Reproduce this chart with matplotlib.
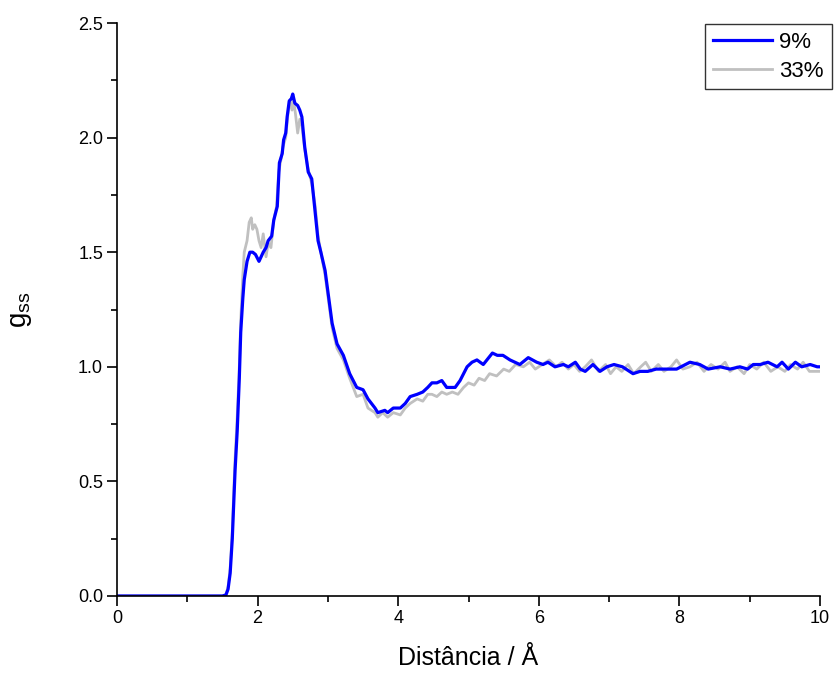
import matplotlib
matplotlib.use('Agg')
import matplotlib.pyplot as plt
from matplotlib.ticker import MultipleLocator

plt.rcParams['font.family'] = ['Liberation Sans', 'DejaVu Sans']
plt.rcParams['mathtext.fontset'] = 'custom'
plt.rcParams['mathtext.rm'] = 'Liberation Sans'

# 9% curve (blue)
x_9 = [0.0, 1.50, 1.55, 1.58, 1.61, 1.64, 1.66, 1.68, 1.71, 1.74, 1.76, 1.79,
       1.81, 1.85, 1.89, 1.93, 1.97, 2.02, 2.08, 2.12, 2.15, 2.20, 2.23, 2.28,
       2.31, 2.35, 2.37, 2.40, 2.42, 2.45, 2.48, 2.50, 2.53, 2.57, 2.60, 2.63,
       2.67, 2.72, 2.77, 2.82, 2.86, 2.90, 2.96, 3.06, 3.13, 3.22, 3.31, 3.41,
       3.50, 3.57, 3.67, 3.71, 3.81, 3.85, 3.93, 4.03, 4.10, 4.17, 4.27, 4.35,
       4.42, 4.48, 4.55, 4.62, 4.69, 4.77, 4.81, 4.88, 4.98, 5.05, 5.12, 5.21,
       5.34, 5.41, 5.49, 5.59, 5.73, 5.85, 5.97, 6.06, 6.13, 6.23, 6.35, 6.42,
       6.52, 6.59, 6.66, 6.77, 6.87, 6.97, 7.07, 7.19, 7.34, 7.44, 7.55, 7.67,
       7.82, 7.96, 8.15, 8.29, 8.41, 8.58, 8.72, 8.86, 8.97, 9.05, 9.15, 9.26,
       9.39, 9.46, 9.55, 9.65, 9.74, 9.86, 9.96, 10.0]
g_9 = [0.0, 0.0, 0.005, 0.03, 0.10, 0.25, 0.40, 0.55, 0.72, 0.95, 1.15, 1.30,
       1.38, 1.46, 1.50, 1.50, 1.49, 1.46, 1.50, 1.52, 1.55, 1.57, 1.64, 1.70,
       1.89, 1.93, 1.99, 2.02, 2.09, 2.16, 2.17, 2.19, 2.15, 2.14, 2.12, 2.09,
       1.96, 1.85, 1.82, 1.67, 1.55, 1.50, 1.42, 1.19, 1.10, 1.05, 0.97, 0.91,
       0.90, 0.86, 0.82, 0.80, 0.81, 0.80, 0.82, 0.82, 0.84, 0.87, 0.88, 0.89,
       0.91, 0.93, 0.93, 0.94, 0.91, 0.91, 0.91, 0.94, 1.00, 1.02, 1.03, 1.01,
       1.06, 1.05, 1.05, 1.03, 1.01, 1.04, 1.02, 1.01, 1.02, 1.00, 1.01, 1.00,
       1.02, 0.99, 0.98, 1.01, 0.98, 1.00, 1.01, 1.00, 0.97, 0.98, 0.98, 0.99,
       0.99, 0.99, 1.02, 1.01, 0.99, 1.00, 0.99, 1.00, 0.99, 1.01, 1.01, 1.02,
       1.00, 1.02, 0.99, 1.02, 1.00, 1.01, 1.00, 1.00]

# 33% curve (gray)
x_33 = [0.0, 1.50, 1.55, 1.58, 1.61, 1.64, 1.66, 1.68, 1.71, 1.74, 1.76, 1.79,
        1.81, 1.85, 1.88, 1.91, 1.93, 1.96, 1.99, 2.02, 2.05, 2.08, 2.12, 2.15,
        2.19, 2.23, 2.27, 2.30, 2.33, 2.36, 2.40, 2.43, 2.46, 2.49, 2.51, 2.54,
        2.57, 2.60, 2.63, 2.67, 2.72, 2.77, 2.82, 2.86, 2.90, 2.96, 3.06, 3.13,
        3.22, 3.31, 3.41, 3.50, 3.57, 3.67, 3.71, 3.78, 3.85, 3.93, 4.03, 4.10,
        4.17, 4.27, 4.35, 4.42, 4.48, 4.55, 4.62, 4.69, 4.77, 4.85, 4.93, 5.00,
        5.08, 5.15, 5.23, 5.30, 5.40, 5.50, 5.58, 5.67, 5.78, 5.87, 5.95, 6.05,
        6.15, 6.25, 6.33, 6.42, 6.50, 6.58, 6.66, 6.75, 6.85, 6.95, 7.02, 7.10,
        7.18, 7.27, 7.35, 7.45, 7.52, 7.60, 7.70, 7.78, 7.88, 7.96, 8.05, 8.15,
        8.25, 8.35, 8.45, 8.55, 8.65, 8.72, 8.82, 8.92, 9.00, 9.10, 9.20, 9.30,
        9.40, 9.50, 9.58, 9.68, 9.76, 9.85, 9.93, 10.0]
g_33 = [0.0, 0.0, 0.005, 0.04, 0.12, 0.28, 0.45, 0.60, 0.78, 1.00, 1.20, 1.40,
        1.50, 1.55, 1.63, 1.65, 1.60, 1.62, 1.60, 1.55, 1.52, 1.58, 1.48, 1.54,
        1.52, 1.64, 1.70, 1.85, 1.90, 1.96, 2.00, 2.10, 2.16, 2.12, 2.17, 2.10,
        2.02, 2.08, 2.05, 1.95, 1.86, 1.80, 1.70, 1.57, 1.50, 1.40, 1.17, 1.08,
        1.03, 0.95, 0.87, 0.88, 0.82, 0.80, 0.78, 0.80, 0.78, 0.80, 0.79, 0.82,
        0.84, 0.86, 0.85, 0.88, 0.88, 0.87, 0.89, 0.88, 0.89, 0.88, 0.91, 0.93,
        0.92, 0.95, 0.94, 0.97, 0.96, 0.99, 0.98, 1.01, 1.00, 1.02, 0.99, 1.01,
        1.03, 1.00, 1.02, 0.99, 1.01, 0.98, 1.00, 1.03, 0.98, 1.01, 0.97, 1.00,
        0.98, 1.01, 0.97, 1.00, 1.02, 0.98, 1.01, 0.98, 1.00, 1.03, 0.99, 1.00,
        1.02, 0.98, 1.01, 0.99, 1.02, 0.98, 1.00, 0.97, 1.01, 0.99, 1.02, 0.98,
        1.00, 0.98, 1.01, 0.99, 1.02, 0.98, 0.98, 0.98]

fig = plt.figure(figsize=(8.34, 6.75), dpi=100)
ax = fig.add_axes([117 / 834, 1 - 596 / 675, 703 / 834, 573 / 675])

line33, = ax.plot(x_33, g_33, color='#C0C0C0', linewidth=2.0)
line9, = ax.plot(x_9, g_9, color='#0000FF', linewidth=2.3)

ax.set_xlim(0, 10)
ax.set_ylim(0, 2.5)
ax.xaxis.set_major_locator(MultipleLocator(2))
ax.xaxis.set_minor_locator(MultipleLocator(1))
ax.yaxis.set_major_locator(MultipleLocator(0.5))
ax.yaxis.set_minor_locator(MultipleLocator(0.25))
ax.yaxis.set_major_formatter(matplotlib.ticker.FormatStrFormatter('%.1f'))

ax.spines['top'].set_visible(False)
ax.spines['right'].set_visible(False)
for s in ('left', 'bottom'):
    ax.spines[s].set_linewidth(1.2)

ax.tick_params(which='major', direction='out', length=7, width=1.2,
               labelsize=13, pad=3)
ax.tick_params(which='minor', direction='out', length=4.5, width=1.2)

ax.set_xlabel('Distância / Å', fontsize=18, labelpad=14)
ax.set_ylabel(r'$\mathrm{g}_{\mathrm{ss}}$', fontsize=20, labelpad=32)

leg = ax.legend([line9, line33], ['9%', '33%'], loc='upper left',
                bbox_to_anchor=(705 / 834, 1 - 24 / 675),
                bbox_transform=fig.transFigure, fontsize=16,
                frameon=True, fancybox=False, borderpad=0.35,
                handlelength=2.65, handletextpad=0.35, labelspacing=0.35,
                borderaxespad=0)
leg.get_frame().set_edgecolor('black')
leg.get_frame().set_linewidth(1.0)

fig.savefig('out.png', dpi=100)
